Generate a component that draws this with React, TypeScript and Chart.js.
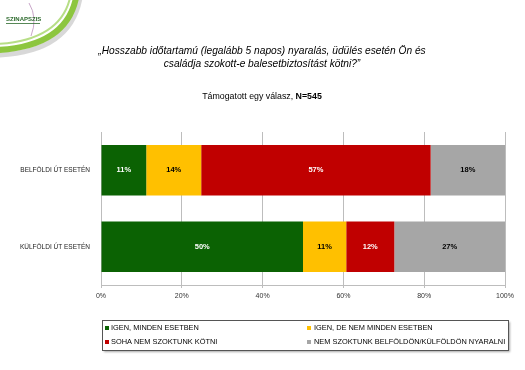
import React, { useEffect, useRef } from "react";
import { Chart, registerables } from "chart.js";

Chart.register(...registerables);

const categories = ["BELFÖLDI ÚT ESETÉN", "KÜLFÖLDI ÚT ESETÉN"];
const seriesNames = [
  "IGEN, MINDEN ESETBEN",
  "IGEN, DE NEM MINDEN ESETBEN",
  "SOHA NEM SZOKTUNK KÖTNI",
  "NEM SZOKTUNK BELFÖLDÖN/KÜLFÖLDÖN NYARALNI",
];
const igenMinden = [11.2, 50.0];
const igenNemMinden = [13.6, 10.7];
const soha = [56.8, 11.9];
const nemNyaralni = [18.4, 27.4];
const xTicks = [0, 20, 40, 60, 80, 100];
const titleLines = [
  "„Hosszabb időtartamú (legalább 5 napos) nyaralás, üdülés esetén Ön és",
  "családja szokott-e balesetbiztosítást kötni?”",
];
const subtitleText = "Támogatott egy válasz, ";
const subtitleBold = "N=545";

const colors = ["#0B6203", "#FFC000", "#C00000", "#A6A6A6"];
const labelColors = ["#ffffff", "#000000", "#ffffff", "#000000"];
const FONT = "'Liberation Sans', Arial, sans-serif";

const decorPlugin = {
  id: "decor",
  beforeDraw(chart: any) {
    const ctx = chart.ctx;
    ctx.save();
    ctx.fillStyle = "#ffffff";
    ctx.fillRect(0, 0, chart.width, chart.height);
    // logo swoosh
    ctx.strokeStyle = "rgba(190,190,190,0.6)";
    ctx.lineWidth = 5;
    ctx.beginPath();
    ctx.moveTo(80, -2);
    ctx.quadraticCurveTo(70, 52, -2, 55);
    ctx.stroke();
    ctx.strokeStyle = "#8DC63F";
    ctx.lineWidth = 6;
    ctx.beginPath();
    ctx.moveTo(76, -2);
    ctx.quadraticCurveTo(66, 46, -2, 50);
    ctx.stroke();
    ctx.strokeStyle = "#B7DE86";
    ctx.lineWidth = 2;
    ctx.beginPath();
    ctx.moveTo(70, -2);
    ctx.quadraticCurveTo(60, 40, -2, 44);
    ctx.stroke();
    ctx.strokeStyle = "#C9A6C9";
    ctx.lineWidth = 1;
    ctx.beginPath();
    ctx.moveTo(29, 3);
    ctx.quadraticCurveTo(38, 18, 31, 36);
    ctx.stroke();
    ctx.fillStyle = "#2E6B2E";
    ctx.font = `bold 6px ${FONT}`;
    ctx.textAlign = "left";
    ctx.textBaseline = "middle";
    ctx.fillText("SZINAPSZIS", 6, 19);
    ctx.fillRect(6, 23, 34, 0.8);

    // titles
    ctx.fillStyle = "#000000";
    ctx.textAlign = "center";
    ctx.font = `italic 10.2px ${FONT}`;
    ctx.fillText(titleLines[0], 262, 51);
    ctx.fillText(titleLines[1], 262, 64);
    ctx.font = `8.8px ${FONT}`;
    const w1 = ctx.measureText(subtitleText).width;
    ctx.font = `bold 8.8px ${FONT}`;
    const w2 = ctx.measureText(subtitleBold).width;
    const sx = 262 - (w1 + w2) / 2;
    ctx.textAlign = "left";
    ctx.font = `8.8px ${FONT}`;
    ctx.fillText(subtitleText, sx, 97);
    ctx.font = `bold 8.8px ${FONT}`;
    ctx.fillText(subtitleBold, sx + w1, 97);
    ctx.restore();
  },
  afterDatasetsDraw(chart: any) {
    const ctx = chart.ctx;
    ctx.save();
    ctx.font = `bold 7.5px ${FONT}`;
    ctx.textAlign = "center";
    ctx.textBaseline = "middle";
    chart.data.datasets.forEach((ds: any, i: number) => {
      const meta = chart.getDatasetMeta(i);
      meta.data.forEach((bar: any, j: number) => {
        const v = ds.data[j];
        const cx = (bar.x + bar.base) / 2;
        ctx.fillStyle = labelColors[i];
        ctx.fillText(Math.round(v) + "%", cx, bar.y);
      });
    });
    // legend box
    const bx = 102, by = 320, bw = 406, bh = 30;
    ctx.shadowColor = "rgba(0,0,0,0.35)";
    ctx.shadowOffsetX = 2;
    ctx.shadowOffsetY = 2;
    ctx.shadowBlur = 2;
    ctx.fillStyle = "#ffffff";
    ctx.fillRect(bx, by, bw, bh);
    ctx.shadowColor = "transparent";
    ctx.strokeStyle = "#555555";
    ctx.lineWidth = 1;
    ctx.strokeRect(bx + 0.5, by + 0.5, bw, bh);
    const pos = [
      [105, 328],
      [307, 328],
      [105, 342],
      [307, 342],
    ];
    ctx.font = `7.4px ${FONT}`;
    ctx.textAlign = "left";
    seriesNames.forEach((name, i) => {
      const [x, y] = pos[i];
      ctx.fillStyle = colors[i];
      ctx.fillRect(x, y - 2, 4, 4);
      ctx.fillStyle = "#000000";
      ctx.fillText(name, x + (i % 2 ? 7 : 6), y);
    });
    ctx.restore();
  },
};

export default function App() {
  const ref = useRef<HTMLCanvasElement>(null);
  useEffect(() => {
    if (!ref.current) return;
    const values = [igenMinden, igenNemMinden, soha, nemNyaralni];
    const chart = new Chart(ref.current, {
      type: "bar",
      data: {
        labels: categories,
        datasets: seriesNames.map((name, i) => ({
          label: name,
          data: values[i],
          backgroundColor: colors[i],
          borderWidth: 0,
          barPercentage: 0.66,
          categoryPercentage: 1,
        })),
      },
      options: {
        indexAxis: "y",
        responsive: false,
        animation: false,
        devicePixelRatio: 1,
        layout: { padding: { top: 132, right: 20, bottom: 65, left: 0 } },
        plugins: {
          legend: { display: false },
          tooltip: { enabled: false },
          title: { display: false },
        },
        scales: {
          x: {
            stacked: true,
            min: 0,
            max: 100,
            afterBuildTicks: (scale: any) => {
              scale.ticks = xTicks.map((v) => ({ value: v }));
            },
            afterFit: (scale: any) => {
              scale.height = 20;
            },
            ticks: {
              callback: (v: any) => v + "%",
              font: { family: FONT, size: 7 },
              color: "#333333",
              padding: 4,
              maxRotation: 0,
            },
            grid: {
              color: "#BDBDBD",
              lineWidth: 1,
              drawTicks: true,
              tickLength: 3,
            },
            border: { color: "#BDBDBD" },
          },
          y: {
            stacked: true,
            afterFit: (scale: any) => {
              scale.width = 101;
            },
            ticks: {
              font: { family: FONT, size: 6.5 },
              color: "#222222",
              padding: 3,
            },
            grid: { display: false, offset: true },
            border: { color: "#BDBDBD" },
          },
        },
      },
      plugins: [decorPlugin],
    });
    return () => chart.destroy();
  }, []);
  return (
    <div style={{ position: "fixed", left: 0, top: 0, width: 525, height: 370, background: "#fff" }}>
      <canvas ref={ref} width={525} height={370} style={{ display: "block" }} />
    </div>
  );
}
